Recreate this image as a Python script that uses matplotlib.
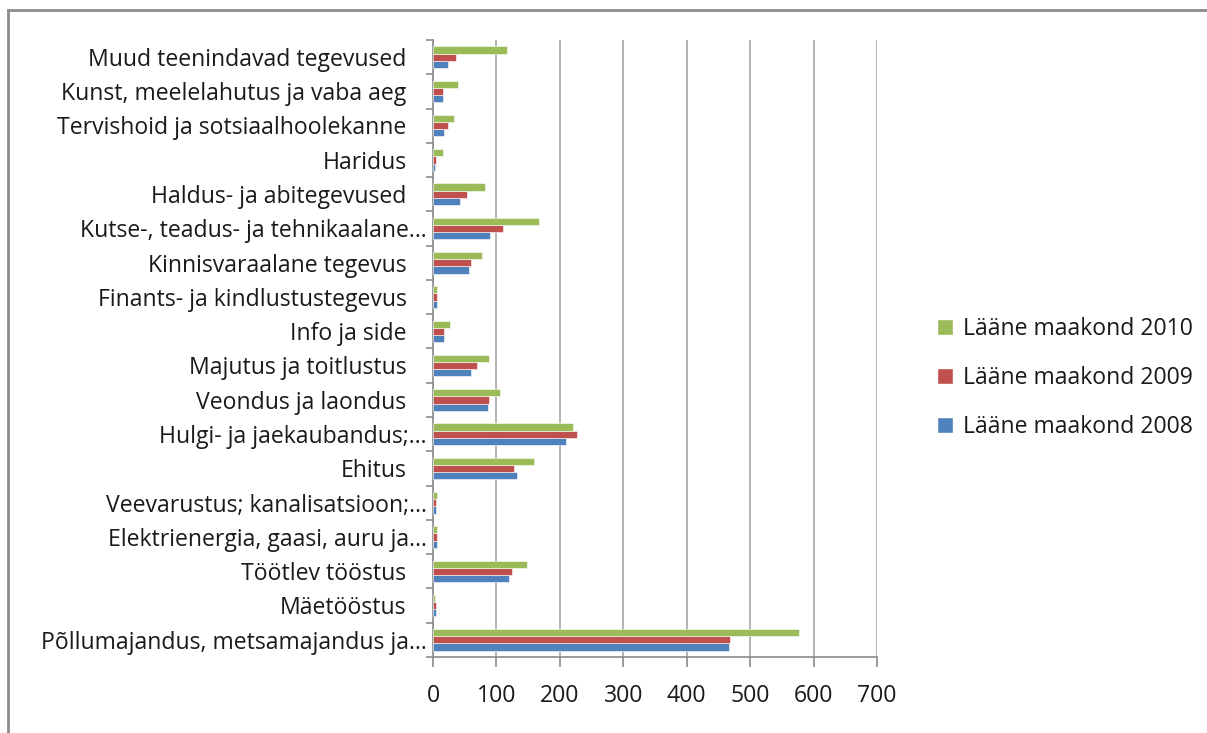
import matplotlib
matplotlib.use("Agg")
import matplotlib.pyplot as plt
from matplotlib.lines import Line2D
from matplotlib.patches import Patch
import numpy as np

plt.rcParams['font.family'] = ['Open Sans', 'DejaVu Sans']

# === data (bottom to top) ===
categories = [
    "Põllumajandus, metsamajandus ja…",
    "Mäetööstus",
    "Töötlev tööstus",
    "Elektrienergia, gaasi, auru ja…",
    "Veevarustus; kanalisatsioon;…",
    "Ehitus",
    "Hulgi- ja jaekaubandus;…",
    "Veondus ja laondus",
    "Majutus ja toitlustus",
    "Info ja side",
    "Finants- ja kindlustustegevus",
    "Kinnisvaraalane tegevus",
    "Kutse-, teadus- ja tehnikaalane…",
    "Haldus- ja abitegevused",
    "Haridus",
    "Tervishoid ja sotsiaalhoolekanne",
    "Kunst, meelelahutus ja vaba aeg",
    "Muud teenindavad tegevused",
]
v2008 = [466, 5, 120, 7, 5, 132, 209, 86, 60, 17, 7, 57, 90, 43, 3, 17, 15, 24]
v2009 = [468, 5, 124, 7, 5, 128, 227, 88, 69, 17, 7, 60, 110, 54, 5, 24, 15, 37]
v2010 = [577, 3, 148, 7, 7, 159, 221, 106, 88, 27, 7, 78, 167, 82, 15, 33, 39, 117]

series = [
    ("Lääne maakond 2008", v2008, "#4F81BD"),
    ("Lääne maakond 2009", v2009, "#C0504D"),
    ("Lääne maakond 2010", v2010, "#9BBB59"),
]
x_ticks = [0, 100, 200, 300, 400, 500, 600, 700]

FS = 16.6

# === figure ===
fig = plt.figure(figsize=(12.07, 7.33), dpi=100)
ax = fig.add_axes([433 / 1207, 1 - 657 / 733, (877 - 433) / 1207, (657 - 40) / 733])

y = np.arange(len(categories))
h = 0.21
for i, (name, vals, col) in enumerate(series):
    ax.barh(y + (i - 1) * h, vals, height=h, color=col, edgecolor="white",
            linewidth=0.4, label=name, zorder=3)

ax.set_xlim(0, 700)
ax.set_ylim(-0.5, len(categories) - 0.5)
ax.set_xticks(x_ticks)
ax.set_xticklabels([str(t) for t in x_ticks], fontsize=FS, color="#1a1a1a")
ax.grid(axis="x", color="#a6a6a6", linewidth=1.2, zorder=0)

# category ticks between groups
ax.set_yticks(np.arange(len(categories) + 1) - 0.5)
ax.set_yticklabels([])
ax.tick_params(axis="y", which="major", length=5, color="#8c8c8c", width=1.2)
ax.tick_params(axis="x", length=7, color="#8c8c8c", width=1.2, pad=12.5)

# category labels: shortened ones sit closer to the axis (like Excel)
for yi, lab in zip(y, categories):
    off = -4.5 if lab.endswith("…") else -19
    ax.annotate(lab, xy=(0, yi), xycoords=("axes fraction", "data"),
                xytext=(off, -2), textcoords="offset points",
                ha="right", va="center", fontsize=FS, color="#1a1a1a")

for s in ["top", "right"]:
    ax.spines[s].set_visible(False)
for s in ["left", "bottom"]:
    ax.spines[s].set_color("#8c8c8c")
    ax.spines[s].set_linewidth(1.2)

# legend
handles = [Patch(facecolor=c, edgecolor="white", label=n) for n, _, c in series[::-1]]
fig.legend(handles=handles, loc="center left", bbox_to_anchor=(916 / 1207, 1 - 378 / 733),
           frameon=False, fontsize=FS, handlelength=0.7, handleheight=0.7,
           handletextpad=0.45, labelspacing=1.1, labelcolor="#1a1a1a")

# outer frame
fig.add_artist(Line2D([8 / 1207, 1], [1 - 10 / 733, 1 - 10 / 733], color="#8c8c8c", lw=2))
fig.add_artist(Line2D([8 / 1207, 8 / 1207], [0, 1 - 10 / 733], color="#8c8c8c", lw=2))

plt.savefig("out.png", dpi=100)
